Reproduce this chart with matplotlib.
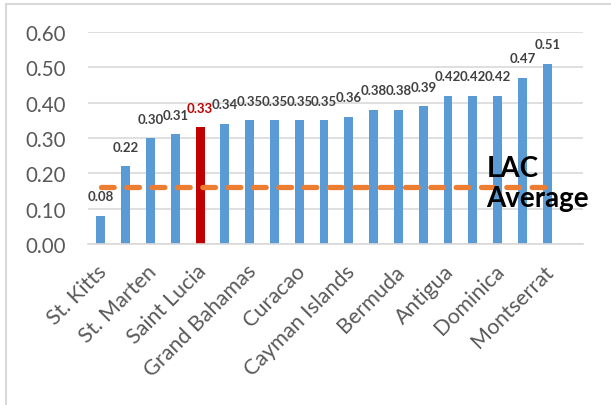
import matplotlib.pyplot as plt
import matplotlib.transforms as mtransforms
from matplotlib.patches import Rectangle

values = [0.08, 0.22, 0.30, 0.31, 0.33, 0.34, 0.35, 0.35, 0.35, 0.35,
          0.36, 0.38, 0.38, 0.39, 0.42, 0.42, 0.42, 0.47, 0.51]
shown_labels = ["St. Kitts", "St. Marten", "Saint Lucia", "Grand Bahamas",
                "Curacao", "Cayman Islands", "Bermuda", "Antigua",
                "Dominica", "Montserrat"]
highlight = 4  # Saint Lucia
lac_average = 0.16
yticks = [0.0, 0.1, 0.2, 0.3, 0.4, 0.5, 0.6]


def main():
    plt.rcParams["font.family"] = ["Lato", "DejaVu Sans"]

    fig = plt.figure(figsize=(6.11, 4.06), dpi=100)
    ax = fig.add_axes([0.144, 0.3966, 0.81, 0.5221])

    # light outer frame like the Excel chart area
    fig.patches.append(Rectangle((6 / 611, -0.1), 1.2, 1 - 5 / 406 + 0.1,
                                 transform=fig.transFigure, fill=False,
                                 edgecolor="#D9D9D9", linewidth=1.5))

    x = list(range(len(values)))
    colors = ["#C00000" if i == highlight else "#5B9BD5" for i in x]
    ax.bar(x, values, width=0.36, color=colors, zorder=2)

    for i, v in zip(x, values):
        ax.annotate(f"{v:.2f}", (i, v), xytext=(0, 14), textcoords="offset points",
                    ha="center", va="center", fontsize=9.5, fontweight="bold",
                    color="#C00000" if i == highlight else "#404040")

    ax.plot([x[0], x[-1]], [lac_average, lac_average], color="#ED7D31",
            linewidth=3.8, dashes=(2.4, 2.4), dash_capstyle="round", zorder=3)
    ax.text(15.55, 0.172, "LAC\nAverage", fontsize=20, fontweight="bold",
            color="black", ha="left", va="center", linespacing=1.2, zorder=4)

    ax.set_ylim(0, 0.6)
    ax.set_xlim(-0.52, 19.44)
    ax.set_yticks(yticks)
    ax.set_yticklabels([f"{t:.2f}" for t in yticks], fontsize=14.8, color="#595959")
    ax.set_xticks(x[::2])
    ax.set_xticklabels(shown_labels, rotation=45, ha="right",
                       rotation_mode="anchor", fontsize=15.5, color="#595959")
    ax.tick_params(length=0)
    ax.tick_params(axis="y", pad=16)
    ax.tick_params(axis="x", pad=12)
    shift = mtransforms.ScaledTranslation(-4 / 100, 0, fig.dpi_scale_trans)
    for lbl in ax.get_xticklabels():
        lbl.set_transform(lbl.get_transform() + shift)

    ax.grid(axis="y", color="#D9D9D9", linewidth=1.2, zorder=0)
    ax.set_axisbelow(True)
    for side in ["top", "right", "left"]:
        ax.spines[side].set_visible(False)
    ax.spines["bottom"].set_color("#D9D9D9")
    ax.spines["bottom"].set_linewidth(1.2)

    plt.savefig("out.png", dpi=100)


if __name__ == "__main__":
    main()
